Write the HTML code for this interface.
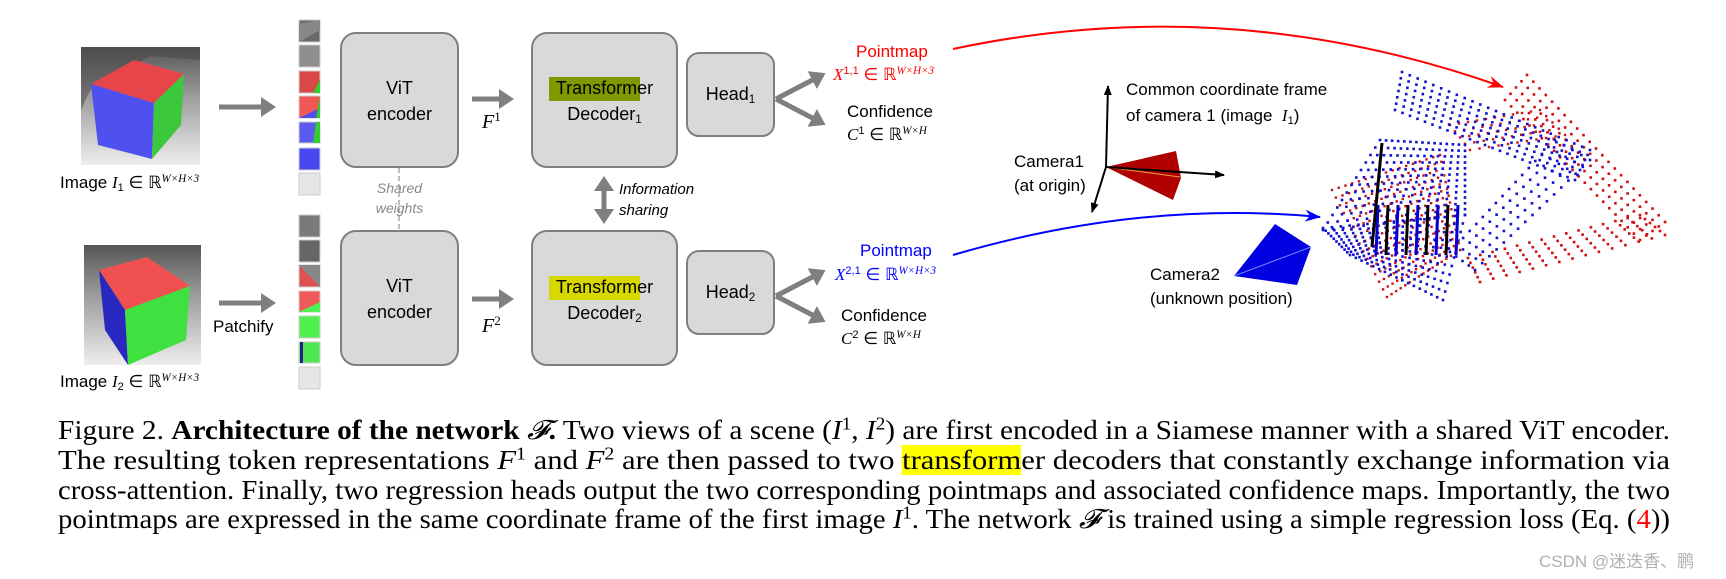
<!DOCTYPE html>
<html><head><meta charset="utf-8">
<style>
body{margin:0;width:1726px;height:579px;background:#fff;overflow:hidden;position:relative;font-family:"Liberation Sans",sans-serif}
.t{position:absolute;white-space:nowrap;line-height:1}
.m{font-family:"Liberation Serif",serif;font-style:italic}
.box{position:absolute;background:#d9d9d9;border:2px solid #7f7f7f;border-radius:16px;box-sizing:border-box}
.cap{position:absolute;left:58px;white-space:nowrap;font-family:"Liberation Serif",serif;font-size:27px;line-height:1;transform-origin:0 0;color:#000}
sup{font-size:65%;vertical-align:0.55em;line-height:0}
sub{font-size:65%;vertical-align:-0.25em;line-height:0}
</style></head><body>
<svg width="1726" height="400" style="position:absolute;left:0;top:0">
<defs>
<linearGradient id="bg1" x1="0" y1="0" x2="0" y2="1"><stop offset="0" stop-color="#555"/><stop offset="0.4" stop-color="#999"/><stop offset="1" stop-color="#eee"/></linearGradient>
<marker id="ag" markerWidth="4" markerHeight="4" refX="2.2" refY="2" orient="auto" markerUnits="strokeWidth"><path d="M0,0 L3,2 L0,4 Z" fill="#7f7f7f"/></marker>
<marker id="ab" markerWidth="10" markerHeight="8" refX="9" refY="4" orient="auto" markerUnits="userSpaceOnUse"><path d="M0,0 L10,4 L0,8 Z" fill="#000"/></marker>
<marker id="ar" markerWidth="16" markerHeight="12" refX="15" refY="6" orient="auto" markerUnits="userSpaceOnUse"><path d="M0,0 L16,6 L0,12 L5,6 Z" fill="#f00"/></marker>
<marker id="abl" markerWidth="16" markerHeight="12" refX="15" refY="6" orient="auto" markerUnits="userSpaceOnUse"><path d="M0,0 L16,6 L0,12 L5,6 Z" fill="#00f"/></marker>
</defs>
<!-- images -->
<rect x="81" y="47" width="119" height="118" fill="url(#bg1)"/>
<polygon points="81,47 200,47 200,60 150,56 90,90 81,110" fill="#444" opacity="0.5"/>
<polygon points="91,84 134,60 184,74 154,103" fill="#e8454a"/>
<polygon points="91,84 154,103 152,159 98,145" fill="#5050f0"/>
<polygon points="154,103 184,74 181,125 152,159" fill="#3cc83c"/>
<rect x="84" y="245" width="117" height="120" fill="url(#bg1)"/>
<polygon points="99,270 147,257 190,286 125,310" fill="#f05050"/>
<polygon points="99,270 125,310 128,365 105,330" fill="#2828c0"/>
<polygon points="125,310 190,286 186,340 128,365" fill="#40e040"/>
<!-- arrows -->
<g stroke="#7f7f7f" stroke-width="5" fill="none">
<line x1="219" y1="107" x2="272" y2="107" marker-end="url(#ag)"/>
<line x1="219" y1="303" x2="272" y2="303" marker-end="url(#ag)"/>
<line x1="472" y1="99" x2="510" y2="99" marker-end="url(#ag)"/>
<line x1="472" y1="299" x2="510" y2="299" marker-end="url(#ag)"/>
<line x1="604" y1="180" x2="604" y2="220" marker-end="url(#ag)"/>
<line x1="604" y1="220" x2="604" y2="180" marker-end="url(#ag)"/>
<polyline points="822,75 776,99 822,123" stroke-width="0"/>
<line x1="776" y1="99" x2="822" y2="75" marker-end="url(#ag)"/>
<line x1="776" y1="99" x2="822" y2="123" marker-end="url(#ag)"/>
<line x1="776" y1="296" x2="822" y2="272" marker-end="url(#ag)"/>
<line x1="776" y1="296" x2="822" y2="320" marker-end="url(#ag)"/>
</g>
<line x1="399" y1="168" x2="399" y2="230" stroke="#aaa" stroke-width="1.5" stroke-dasharray="5,3"/>
<!-- patches -->
<g stroke="#ccc" stroke-width="1">
<rect x="299" y="20" width="21" height="22" fill="#6a6a6a"/>
<rect x="299" y="45" width="21" height="22" fill="#8e8e8e"/>
<rect x="299" y="71" width="21" height="22" fill="#d84848"/>
<rect x="299" y="96" width="21" height="22" fill="#f05858"/>
<rect x="299" y="122" width="21" height="21" fill="#5a5af0"/>
<rect x="299" y="148" width="21" height="22" fill="#4848f0"/>
<rect x="299" y="173" width="21" height="22" fill="#e6e6e6"/>
<rect x="299" y="215" width="21" height="22" fill="#7a7a7a"/>
<rect x="299" y="240" width="21" height="22" fill="#666"/>
<rect x="299" y="265" width="21" height="22" fill="#e05050"/>
<rect x="299" y="291" width="21" height="21" fill="#f05a5a"/>
<rect x="299" y="316" width="21" height="22" fill="#50f050"/>
<rect x="299" y="342" width="21" height="21" fill="#50e850"/>
<rect x="299" y="367" width="21" height="22" fill="#e6e6e6"/>
</g>
<polygon points="299,24 320,20 320,30 299,42" fill="#888"/>
<polygon points="313,93 320,80 320,93" fill="#3c3"/>
<polygon points="299,118 320,108 320,118" fill="#5050f0"/><polygon points="316,118 320,96 320,118" fill="#3c3"/>
<polygon points="313,143 316,122 320,122 320,143" fill="#3c3"/>
<polygon points="299,265 320,287 320,265" fill="#888"/>
<polygon points="299,312 320,302 320,312" fill="#50f050"/>
<rect x="300" y="342" width="3" height="21" fill="#228"/>
<!-- head output curves -->
<path d="M953,49 Q1230,-10 1503,87" stroke="#f00" stroke-width="2" fill="none" marker-end="url(#ar)"/>
<path d="M953,255 Q1140,200 1320,217" stroke="#00f" stroke-width="2" fill="none" marker-end="url(#abl)"/>
<!-- camera1 -->
<polygon points="1106,167 1176,151 1181,178 1173,200" fill="#b00000"/>
<line x1="1106" y1="167" x2="1180" y2="177" stroke="#e8a040" stroke-width="1"/>
<g stroke="#000" stroke-width="2">
<line x1="1106" y1="167" x2="1108" y2="86" marker-end="url(#ab)"/>
<line x1="1106" y1="167" x2="1092" y2="212" marker-end="url(#ab)"/>
<line x1="1106" y1="167" x2="1224" y2="175" marker-end="url(#ab)"/>
</g>
<!-- camera2 -->
<polygon points="1275,224 1311,247 1297,285 1234,276" fill="#0000e0"/>
<line x1="1234" y1="276" x2="1311" y2="247" stroke="#6a8cff" stroke-width="1"/>
<g id="pc"></g>
</svg>

<div class="box" style="left:340px;top:32px;width:119px;height:136px"></div>
<div class="box" style="left:340px;top:230px;width:119px;height:136px"></div>
<div class="box" style="left:531px;top:32px;width:147px;height:136px"></div>
<div class="box" style="left:531px;top:230px;width:147px;height:136px"></div>
<div class="box" style="left:686px;top:52px;width:89px;height:85px;border-radius:13px"></div>
<div class="box" style="left:686px;top:250px;width:89px;height:85px;border-radius:13px"></div>
<div style="position:absolute;left:549px;top:77px;width:91px;height:24px;background:#7f9a00"></div>
<div style="position:absolute;left:549px;top:276px;width:91px;height:24px;background:#d8d800"></div>

<div class="t" style="left:340px;width:119px;text-align:center;top:79px;font-size:18px">ViT</div>
<div class="t" style="left:340px;width:119px;text-align:center;top:105px;font-size:18px">encoder</div>
<div class="t" style="left:340px;width:119px;text-align:center;top:277px;font-size:18px">ViT</div>
<div class="t" style="left:340px;width:119px;text-align:center;top:303px;font-size:18px">encoder</div>
<div class="t" style="left:531px;width:147px;text-align:center;top:79px;font-size:18px">Transformer</div>
<div class="t" style="left:531px;width:147px;text-align:center;top:105px;font-size:18px">Decoder<sub>1</sub></div>
<div class="t" style="left:531px;width:147px;text-align:center;top:278px;font-size:18px">Transformer</div>
<div class="t" style="left:531px;width:147px;text-align:center;top:304px;font-size:18px">Decoder<sub>2</sub></div>
<div class="t" style="left:686px;width:89px;text-align:center;top:85px;font-size:18px">Head<sub>1</sub></div>
<div class="t" style="left:686px;width:89px;text-align:center;top:283px;font-size:18px">Head<sub>2</sub></div>
<div class="t" style="left:340px;width:119px;text-align:center;top:181px;font-size:14px;font-style:italic;color:#888">Shared</div>
<div class="t" style="left:340px;width:119px;text-align:center;top:201px;font-size:14px;font-style:italic;color:#888">weights</div>
<div class="t" style="left:619px;top:182px;font-size:15px;font-style:italic">Information</div>
<div class="t" style="left:619px;top:203px;font-size:15px;font-style:italic">sharing</div>
<div class="t m" style="left:482px;top:112px;font-size:20px">F<sup style="font-style:normal">1</sup></div>
<div class="t m" style="left:482px;top:316px;font-size:20px">F<sup style="font-style:normal">2</sup></div>
<div class="t" style="left:213px;top:318px;font-size:17px">Patchify</div>
<div class="t" style="left:60px;top:174px;font-size:17px">Image <span class="m">I</span><sub>1</sub> ∈ ℝ<sup class="m">W×H×3</sup></div>
<div class="t" style="left:60px;top:373px;font-size:17px">Image <span class="m">I</span><sub>2</sub> ∈ ℝ<sup class="m">W×H×3</sup></div>

<div class="t" style="left:856px;top:43px;font-size:17px;color:#f00">Pointmap</div>
<div class="t" style="left:833px;top:66px;font-size:17px;color:#f00"><span class="m">X</span><sup>1,1</sup> ∈ ℝ<sup class="m">W×H×3</sup></div>
<div class="t" style="left:847px;top:103px;font-size:17px">Confidence</div>
<div class="t" style="left:847px;top:126px;font-size:17px"><span class="m">C</span><sup>1</sup> ∈ ℝ<sup class="m">W×H</sup></div>
<div class="t" style="left:860px;top:242px;font-size:17px;color:#00f">Pointmap</div>
<div class="t" style="left:835px;top:266px;font-size:17px;color:#00f"><span class="m">X</span><sup>2,1</sup> ∈ ℝ<sup class="m">W×H×3</sup></div>
<div class="t" style="left:841px;top:307px;font-size:17px">Confidence</div>
<div class="t" style="left:841px;top:330px;font-size:17px"><span class="m">C</span><sup>2</sup> ∈ ℝ<sup class="m">W×H</sup></div>

<div class="t" style="left:1126px;top:81px;font-size:17px">Common coordinate frame</div>
<div class="t" style="left:1126px;top:107px;font-size:17px">of camera 1 (image &nbsp;<span class="m">I</span><sub>1</sub>)</div>
<div class="t" style="left:1014px;top:153px;font-size:17px">Camera1</div>
<div class="t" style="left:1014px;top:177px;font-size:17px">(at origin)</div>
<div class="t" style="left:1150px;top:266px;font-size:17px">Camera2</div>
<div class="t" style="left:1150px;top:290px;font-size:17px">(unknown position)</div>

<div class="cap" style="top:417px">Figure 2. <b>Architecture of the network <span style="font-family:'DejaVu Serif',serif;font-style:italic;font-weight:normal">𝓕</span>.</b> Two views of a scene (<i>I</i><sup>1</sup>, <i>I</i><sup>2</sup>) are first encoded in a Siamese manner with a shared ViT encoder.</div>
<div class="cap" style="top:447px">The resulting token representations <i>F</i><sup>1</sup> and <i>F</i><sup>2</sup> are then passed to two <span style="background:#ff0">transform</span>er decoders that constantly exchange information via</div>
<div class="cap" style="top:477px">cross-attention. Finally, two regression heads output the two corresponding pointmaps and associated confidence maps. Importantly, the two</div>
<div class="cap" style="top:506px">pointmaps are expressed in the same coordinate frame of the first image <i>I</i><sup>1</sup>. The network <i>𝓕</i> is trained using a simple regression loss (Eq. (<span style="color:#f00">4</span>))</div>
<div class="t" style="left:1539px;top:553px;font-size:17px;color:#b0b0b0;font-family:'Liberation Sans','Noto Sans CJK SC',sans-serif">CSDN @迷迭香、鹏</div>

<script>
document.querySelectorAll('.cap').forEach(function(e){var w=e.getBoundingClientRect().width;e.style.transform='scaleX('+(1612/w)+')';});
var g=document.getElementById('pc'),s='';
function quad(p,n,m,c,r){for(var i=0;i<=n;i++){for(var j=0;j<=m;j++){var u=i/n,v=j/m;
var x=(1-u)*(1-v)*p[0][0]+u*(1-v)*p[1][0]+u*v*p[2][0]+(1-u)*v*p[3][0];
var y=(1-u)*(1-v)*p[0][1]+u*(1-v)*p[1][1]+u*v*p[2][1]+(1-u)*v*p[3][1];
s+='<rect x="'+(x-r).toFixed(1)+'" y="'+(y-r).toFixed(1)+'" width="'+(2*r)+'" height="'+(2*r)+'" fill="'+c+'"/>';}}}
quad([[1527,75],[1665,222],[1640,240],[1505,100]],22,4,'#d01010',1.3);
quad([[1640,215],[1665,235],[1480,282],[1468,258]],5,14,'#d01010',1.3);
quad([[1450,125],[1540,110],[1565,135],[1470,150]],10,4,'#d01010',1.2);
quad([[1402,72],[1590,150],[1575,180],[1395,110]],24,6,'#1010d0',1.3);
quad([[1555,140],[1590,160],[1475,270],[1450,252]],4,16,'#1010d0',1.3);
quad([[1332,190],[1440,155],[1460,250],[1387,297]],16,14,'#d01010',1.2);
quad([[1380,140],[1465,145],[1465,215],[1323,230]],14,12,'#1010d0',1.3);
quad([[1323,228],[1465,215],[1443,300],[1350,255]],16,10,'#1010d0',1.3);
for(var k=0;k<9;k++){var x=1378+k*10;s+='<line x1="'+x+'" y1="205" x2="'+(x-2)+'" y2="255" stroke="'+(k%2?'#000':'#0000d0')+'" stroke-width="3"/>';}
s+='<line x1="1382" y1="143" x2="1372" y2="247" stroke="#000" stroke-width="3"/>';
g.innerHTML=s;
</script>
</body></html>
